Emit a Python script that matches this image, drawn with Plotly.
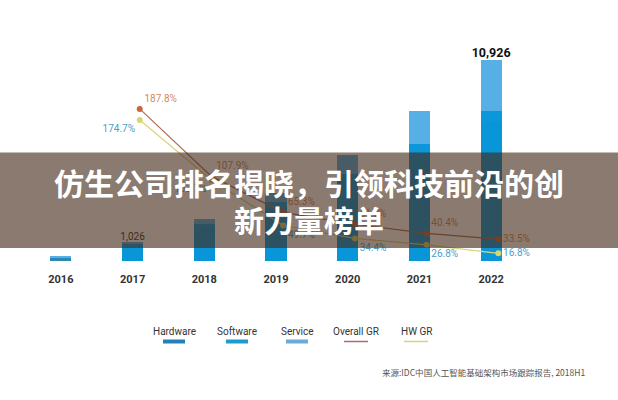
import plotly.graph_objects as go

# ---------------- data ----------------
years = ["2016", "2017", "2018", "2019", "2020", "2021", "2022"]
hardware = [210, 800, 1800, 2900, 4300, 5900, 7550]
software = [5, 100, 200, 300, 450, 430, 580]
service = [5, 126, 270, 480, 980, 1800, 2796]
labeled_years = ["2017", "2022"]

gr_years = ["2017", "2018", "2019", "2020", "2021", "2022"]
overall_gr = [187.8, 107.9, 65.3, 51.2, 40.4, 33.5]
hw_gr = [174.7, 103.7, 49.7, 34.4, 26.8, 16.8]

legend_names = ["Hardware", "Software", "Service", "Overall GR", "HW GR"]
title_lines = ["仿生公司排名揭晓，引领科技前沿的创", "新力量榜单"]
source_text = "来源:IDC中国人工智能基础架构市场跟踪报告, 2018H1"

# ---------------- layout geometry ----------------
W, H = 618, 400
L, R, T, B = 25, 91, 40, 139
PW, PH = W - L - R, H - T - B


def px(xp):
    return (xp - L) / PW


def py(yp):
    return (T + PH - yp) / PH


totals = [h + s + v for h, s, v in zip(hardware, software, service)]
lab_vals = [totals[years.index(y)] for y in labeled_years]
lab_text = [f"{v:,}" if v < 10000 else f"<b>{v:,}</b>" for v in lab_vals]

fig = go.Figure()

hw_colors = ["#2a88b2"] + ["#0996d9"] * (len(years) - 1)
fig.add_trace(go.Bar(x=years, y=hardware, name="Hardware", marker_color=hw_colors,
                     marker_line_width=0, showlegend=False))
fig.add_trace(go.Bar(x=years, y=software, name="Software", marker_color="#0b97d9",
                     marker_line_width=0, showlegend=False))
fig.add_trace(go.Bar(x=years, y=service, name="Service", marker_color="#56afe5",
                     marker_line_width=0, showlegend=False))

fig.add_trace(go.Scatter(x=labeled_years, y=lab_vals, mode="text", text=lab_text,
                         textposition="top center", cliponaxis=False,
                         textfont=dict(family="Roboto", size=[10, 12.5], color=["#333333", "#111111"]),
                         showlegend=False, hoverinfo="skip"))

fig.add_trace(go.Scatter(x=gr_years, y=overall_gr, xaxis="x2", yaxis="y2",
                         mode="lines+markers+text", name="Overall GR", cliponaxis=False,
                         line=dict(color="#ad6c55", width=1.2),
                         marker=dict(color="#c8653f", size=6),
                         text=[f"{v}%" for v in overall_gr],
                         textposition=["top right", "top right", "top right", "top right", "top right", "middle right"],
                         textfont=dict(family="Roboto", size=10, color="#d38a5c"),
                         showlegend=False))
fig.add_trace(go.Scatter(x=gr_years, y=hw_gr, xaxis="x2", yaxis="y2",
                         mode="lines+markers+text", name="HW GR", cliponaxis=False,
                         line=dict(color="#dcd47c", width=1.2),
                         marker=dict(color="#d8d66c", size=6),
                         text=[f"{v}%" for v in hw_gr],
                         textposition=["bottom left", "bottom left", "bottom right", "bottom right", "bottom right", "middle right"],
                         textfont=dict(family="Roboto", size=10, color="#4e9ec6"),
                         showlegend=False))

shapes = []
annotations = []

# custom legend: text above swatch
leg_centers = [174, 237, 297, 356, 416]
leg_colors = ["#2580b8", "#1d9bcd", "#6aabd8", "#b06a6a", "#d9d27a"]
for i, (name, cx, col) in enumerate(zip(legend_names, leg_centers, leg_colors)):
    annotations.append(dict(x=px(cx), y=py(331), xref="paper", yref="paper", text=name,
                            showarrow=False, xanchor="center", yanchor="middle",
                            font=dict(family="Roboto", size=10, color="#333333")))
    if i < 3:
        shapes.append(dict(type="rect", xref="paper", yref="paper",
                           x0=px(cx - 11), x1=px(cx + 11), y0=py(343.5), y1=py(339.5),
                           fillcolor=col, line_width=0))
    else:
        shapes.append(dict(type="line", xref="paper", yref="paper",
                           x0=px(cx - 12), x1=px(cx + 12), y0=py(341.5), y1=py(341.5),
                           line=dict(color=col, width=1.5)))

annotations.append(dict(x=px(587), y=py(372), xref="paper", yref="paper", text=source_text,
                        showarrow=False, xanchor="right", yanchor="middle",
                        font=dict(family="Noto Sans CJK SC", size=8.5, color="#555555")))

# banner overlay with title
shapes.append(dict(type="rect", xref="paper", yref="paper", layer="above",
                   x0=px(0), x1=px(W), y0=py(248), y1=py(152.5),
                   fillcolor="rgba(66,40,22,0.62)", line_width=0))
for txt, yc in zip(title_lines, [182, 219]):
    annotations.append(dict(x=px(W / 2), y=py(yc), xref="paper", yref="paper", text=txt,
                            showarrow=False, xanchor="center", yanchor="middle",
                            font=dict(family="Noto Sans CJK SC", size=30, color="#ffffff", weight="bold")))

fig.update_layout(
    width=W, height=H, autosize=False,
    margin=dict(l=L, r=R, t=T, b=B, pad=0),
    paper_bgcolor="white", plot_bgcolor="white",
    barmode="stack", bargap=0.707,
    xaxis=dict(type="category", categoryorder="array", categoryarray=years,
               range=[-0.5, 6.5], showgrid=False, zeroline=False, showline=False,
               ticks="", ticklabelstandoff=10,
               tickfont=dict(family="Roboto", size=11, color="#333333", weight="bold"),
               fixedrange=True),
    xaxis2=dict(type="category", categoryorder="array", categoryarray=years,
                overlaying="x", range=[-0.6, 6.4], visible=False, fixedrange=True),
    yaxis=dict(range=[0, 12000], visible=False, fixedrange=True),
    yaxis2=dict(range=[7.7, 269.4], overlaying="y", visible=False, fixedrange=True),
    shapes=shapes, annotations=annotations,
    showlegend=False,
)

fig.write_html("out.html", config={"displayModeBar": False},
               post_script="document.body.style.margin='0';document.body.style.overflow='hidden';")
